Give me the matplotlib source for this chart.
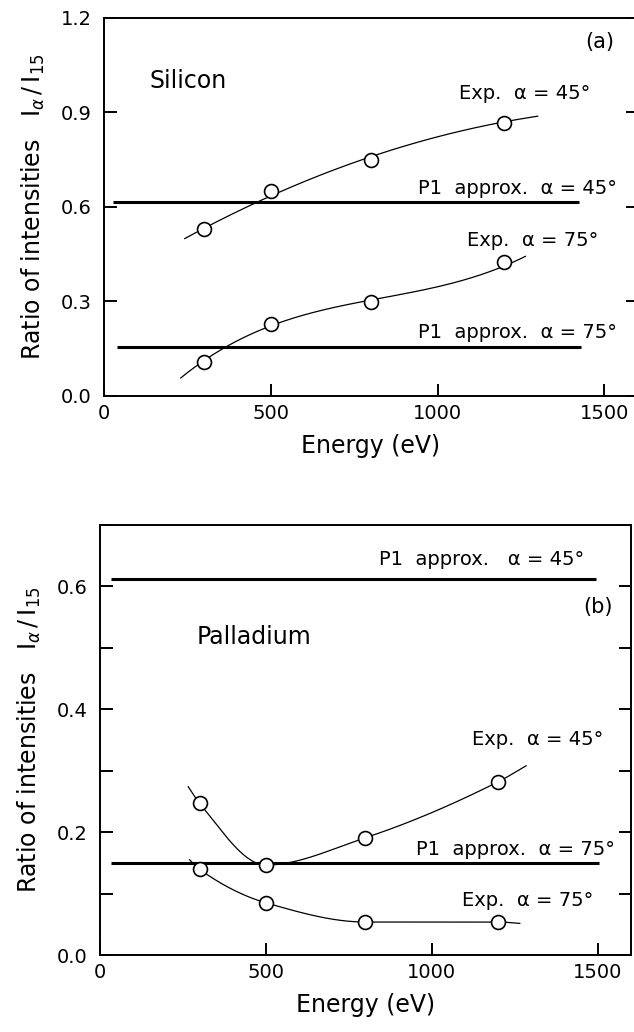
#!/usr/bin/env python3

import numpy as np
from matplotlib import pyplot as plt
from matplotlib.ticker import MultipleLocator

out_filename = "out.png"

# measured energies (eV)
energy = [300, 500, 800, 1200]

# silicon: measured ratios and the ends of the guide curves
si_exp45 = [0.530, 0.651, 0.749, 0.868]
si_exp45_ends_x = [242, 1300]
si_exp45_ends_y = [0.495, 0.892]
si_exp75 = [0.109, 0.229, 0.298, 0.424]
si_exp75_ends_x = [230, 1263]
si_exp75_ends_y = [0.058, 0.435]
si_p1_45 = 0.615
si_p1_45_range = [27, 1425]
si_p1_75 = 0.157
si_p1_75_range = [40, 1430]

# palladium
pd_exp45 = [0.247, 0.1465, 0.191, 0.282]
pd_exp45_ends_x = [266, 1284]
pd_exp45_ends_y = [0.274, 0.308]
pd_exp75 = [0.1395, 0.085, 0.0537, 0.0537]
pd_exp75_ends_x = [270, 1265]
pd_exp75_ends_y = [0.155, 0.0515]
pd_p1_45 = 0.612
pd_p1_45_range = [33, 1495]
pd_p1_75 = 0.149
pd_p1_75_range = [33, 1503]

plt.rcParams["font.family"] = ["DejaVu Sans"]
plt.rcParams["mathtext.fontset"] = "dejavusans"
plt.rcParams["xtick.labelsize"] = 14
plt.rcParams["ytick.labelsize"] = 14


def pchip(xk, yk, x):
    # shape preserving cubic through the knots
    xk = np.asarray(xk, float)
    yk = np.asarray(yk, float)
    h = np.diff(xk)
    delta = np.diff(yk) / h
    d = np.zeros_like(yk)
    for k in range(1, len(xk) - 1):
        if delta[k - 1] * delta[k] > 0:
            w1 = 2 * h[k] + h[k - 1]
            w2 = h[k] + 2 * h[k - 1]
            d[k] = (w1 + w2) / (w1 / delta[k - 1] + w2 / delta[k])
    d[0] = delta[0]
    d[-1] = delta[-1]
    i = np.clip(np.searchsorted(xk, x) - 1, 0, len(h) - 1)
    t = (x - xk[i]) / h[i]
    h00 = 2 * t**3 - 3 * t**2 + 1
    h10 = t**3 - 2 * t**2 + t
    h01 = -2 * t**3 + 3 * t**2
    h11 = t**3 - t**2
    return h00 * yk[i] + h10 * h[i] * d[i] + h01 * yk[i + 1] + h11 * h[i] * d[i + 1]


def draw_exp(ax, ys, ends_x, ends_y, fit_deg=None):
    xk = [ends_x[0], *energy, ends_x[1]]
    yk = [ends_y[0], *ys, ends_y[1]]
    xs = np.linspace(xk[0], xk[-1], 300)
    if fit_deg is None:
        curve = pchip(xk, yk, xs)
    else:
        curve = np.polyval(np.polyfit(xk, yk, fit_deg), xs)
    ax.plot(xs, curve, color="k", linewidth=0.9, zorder=2)
    ax.plot(
        energy,
        ys,
        linestyle="",
        marker="o",
        markersize=10,
        markerfacecolor="white",
        markeredgecolor="k",
        markeredgewidth=1.2,
        zorder=3,
    )


def draw_p1(ax, y, xr):
    ax.plot(xr, [y, y], color="k", linewidth=2.2, solid_capstyle="butt", zorder=1)


def style_axes(ax):
    ax.set_xlim(0, 1600)
    ax.xaxis.set_major_locator(MultipleLocator(500))
    ax.tick_params(
        which="both",
        direction="in",
        length=9,
        width=1.4,
        right=True,
        top=False,
    )
    ax.tick_params(axis="y", pad=9)
    ax.tick_params(axis="x", pad=6)
    for sp in ax.spines.values():
        sp.set_linewidth(1.4)
    ax.set_xlabel("Energy (eV)", fontsize=17, labelpad=8)
    ax.set_ylabel(
        r"Ratio of intensities   $\mathrm{I}_{\alpha}\,/\,\mathrm{I}_{15}$",
        fontsize=17,
        labelpad=10,
    )


def main():
    fig = plt.figure(figsize=(6.34, 10.32), dpi=100)
    ax1 = fig.add_axes([0.164, 0.6163, 0.842, 0.3663])
    ax2 = fig.add_axes([0.1577, 0.0746, 0.8375, 0.4167])

    # (a) silicon
    draw_p1(ax1, si_p1_45, si_p1_45_range)
    draw_p1(ax1, si_p1_75, si_p1_75_range)
    draw_exp(ax1, si_exp45, si_exp45_ends_x, si_exp45_ends_y, fit_deg=2)
    draw_exp(ax1, si_exp75, si_exp75_ends_x, si_exp75_ends_y, fit_deg=3)
    ax1.set_ylim(0, 1.2)
    ax1.yaxis.set_major_locator(MultipleLocator(0.3))
    ax1.yaxis.set_major_formatter(lambda v, _: f"{v:.1f}")
    style_axes(ax1)
    ax1.spines["right"].set_visible(False)
    ax1.text(137, 1.0, "Silicon", fontsize=17, va="center")
    ax1.text(1487, 1.124, "(a)", fontsize=15, ha="center", va="center")
    ax1.text(1063, 0.96, "Exp.  α = 45°", fontsize=14, va="center")
    ax1.text(941, 0.66, "P1  approx.  α = 45°", fontsize=14, va="center")
    ax1.text(1087, 0.495, "Exp.  α = 75°", fontsize=14, va="center")
    ax1.text(941, 0.203, "P1  approx.  α = 75°", fontsize=14, va="center")

    # (b) palladium
    draw_p1(ax2, pd_p1_45, pd_p1_45_range)
    draw_p1(ax2, pd_p1_75, pd_p1_75_range)
    draw_exp(ax2, pd_exp45, pd_exp45_ends_x, pd_exp45_ends_y)
    draw_exp(ax2, pd_exp75, pd_exp75_ends_x, pd_exp75_ends_y)
    ax2.set_ylim(0, 0.7)
    ax2.yaxis.set_major_locator(MultipleLocator(0.2))
    ax2.yaxis.set_minor_locator(MultipleLocator(0.1))
    ax2.yaxis.set_major_formatter(lambda v, _: f"{v:.1f}")
    ax2.xaxis.set_minor_locator(plt.NullLocator())
    style_axes(ax2)
    ax2.text(291, 0.518, "Palladium", fontsize=17, va="center")
    ax2.text(1500, 0.567, "(b)", fontsize=15, ha="center", va="center")
    ax2.text(841, 0.643, "P1  approx.   α = 45°", fontsize=14, va="center")
    ax2.text(1120, 0.35, "Exp.  α = 45°", fontsize=14, va="center")
    ax2.text(951, 0.171, "P1  approx.  α = 75°", fontsize=14, va="center")
    ax2.text(1090, 0.0895, "Exp.  α = 75°", fontsize=14, va="center")

    fig.savefig(out_filename, dpi=100)
    plt.close()


if __name__ == "__main__":
    main()
